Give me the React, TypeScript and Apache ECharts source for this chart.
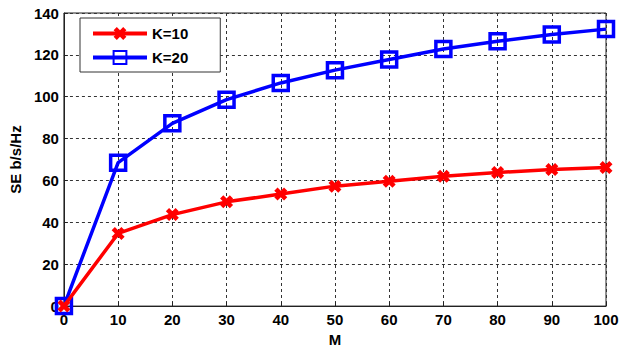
import React, { useEffect, useRef } from "react";
import * as echarts from "echarts";

const mValues = [0, 10, 20, 30, 40, 50, 60, 70, 80, 90, 100];
const k10 = [0, 34.7, 43.7, 49.8, 53.5, 57.3, 59.6, 62.0, 63.8, 65.3, 66.2];
const k20 = [0, 68.5, 87.3, 98.6, 106.6, 112.7, 117.8, 122.8, 126.5, 129.7, 132.3];
const seriesNames = ["K=10", "K=20"];

const crossPath =
  "path://M0,2.5 L2.5,0 L5,2.5 L7.5,0 L10,2.5 L7.5,5 L10,7.5 L7.5,10 L5,7.5 L2.5,10 L0,7.5 L2.5,5 Z";

export default function App() {
  const ref = useRef<HTMLDivElement>(null);
  useEffect(() => {
    if (!ref.current) return;
    const chart = echarts.init(ref.current, null, { renderer: "svg" });
    const font = "Liberation Sans";
    chart.setOption({
      animation: false,
      backgroundColor: "#fff",
      grid: {
        left: 63,
        right: 18,
        top: 13,
        bottom: 41,
        show: true,
        borderColor: "#222",
        borderWidth: 1,
      },
      legend: {
        left: 80,
        top: 18,
        orient: "vertical",
        backgroundColor: "#fff",
        borderColor: "#333",
        borderWidth: 1,
        padding: [8, 32, 7, 11],
        itemWidth: 54,
        itemHeight: 16,
        itemGap: 9,
        lineStyle: { width: 4 },
        textStyle: { fontFamily: font, fontWeight: "bold", fontSize: 15, color: "#000" },
        data: seriesNames,
      },
      xAxis: {
        type: "value",
        min: 0,
        max: 100,
        interval: 10,
        name: "M",
        nameLocation: "middle",
        nameGap: 25,
        nameTextStyle: { fontFamily: font, fontWeight: "bold", fontSize: 15, color: "#000" },
        axisLine: { lineStyle: { color: "#222", width: 1 } },
        axisTick: { inside: true, length: 4, lineStyle: { color: "#222" } },
        axisLabel: { fontFamily: font, fontWeight: "bold", fontSize: 15, color: "#000", margin: 6 },
        splitLine: { show: true, lineStyle: { color: "#333", type: [3, 3], width: 1 } },
      },
      yAxis: {
        type: "value",
        min: 0,
        max: 140,
        interval: 20,
        name: "SE b/s/Hz",
        nameLocation: "middle",
        nameGap: 35,
        nameRotate: 90,
        nameTextStyle: { fontFamily: font, fontWeight: "bold", fontSize: 15, color: "#000" },
        axisLine: { show: true, lineStyle: { color: "#222", width: 1 } },
        axisTick: { show: true, inside: true, length: 4, lineStyle: { color: "#222" } },
        axisLabel: { fontFamily: font, fontWeight: "bold", fontSize: 15, color: "#000", margin: 5 },
        splitLine: { show: true, lineStyle: { color: "#333", type: [3, 3], width: 1 } },
      },
      series: [
        {
          name: seriesNames[0],
          type: "line",
          data: mValues.map((m, i) => [m, k10[i]]),
          symbol: crossPath,
          symbolSize: 13,
          lineStyle: { color: "#ff0000", width: 3.5 },
          itemStyle: { color: "#ff0000" },
          z: 3,
        },
        {
          name: seriesNames[1],
          type: "line",
          data: mValues.map((m, i) => [m, k20[i]]),
          symbol: "rect",
          symbolSize: 15,
          lineStyle: { color: "#0000ff", width: 3.5 },
          itemStyle: { color: "rgba(0,0,0,0)", borderColor: "#0000ff", borderWidth: 3.5 },
          z: 2,
        },
      ],
    });
    return () => chart.dispose();
  }, []);
  return (
    <div
      ref={ref}
      style={{ position: "absolute", left: 0, top: 0, width: 624, height: 352 }}
    />
  );
}
